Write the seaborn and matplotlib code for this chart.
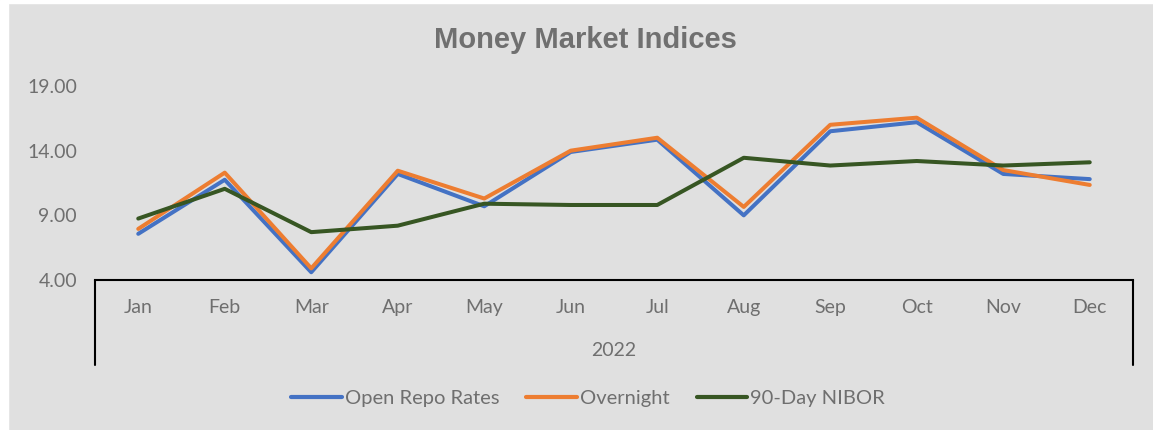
import matplotlib
matplotlib.use("Agg")
import matplotlib.pyplot as plt
import seaborn as sns
import pandas as pd
from matplotlib.patches import Rectangle
from matplotlib.lines import Line2D

months = ["Jan", "Feb", "Mar", "Apr", "May", "Jun", "Jul", "Aug", "Sep", "Oct", "Nov", "Dec"]
open_repo = [7.57, 11.75, 4.6, 12.2, 9.7, 13.9, 14.85, 9.0, 15.5, 16.2, 12.2, 11.8]
overnight = [7.95, 12.3, 4.9, 12.45, 10.3, 14.0, 15.0, 9.65, 16.0, 16.55, 12.5, 11.35]
nibor = [8.75, 11.05, 7.7, 8.2, 9.9, 9.8, 9.8, 13.45, 12.85, 13.2, 12.85, 13.1]
series_names = ["Open Repo Rates", "Overnight", "90-Day NIBOR"]
year_label = "2022"
yticks = [4.0, 9.0, 14.0, 19.0]

sns.set_theme(style="white")
plt.rcParams["font.family"] = ["Lato", "DejaVu Sans"]

bg = "#e0e0e0"
txt = "#6f6f6f"
colors = ["#4472C4", "#ED7D31", "#375623"]

rows = []
for name, vals in zip(series_names, [open_repo, overnight, nibor]):
    for i, (m, v) in enumerate(zip(months, vals)):
        rows.append({"pos": i, "month": m, "value": v, "series": name})
df = pd.DataFrame(rows)

fig = plt.figure(figsize=(11.53, 4.30), dpi=100, facecolor=bg)
ax = fig.add_axes([95/1153, 150/430, (1133-95)/1153, (280-86)/430])
ax.set_facecolor(bg)

sns.lineplot(data=df, x="pos", y="value", hue="series", palette=colors,
             hue_order=series_names, linewidth=2.9, ax=ax, legend=False, sort=False)

ax.set_xlim(-0.5, 11.5)
ax.set_ylim(4, 19)
ax.set_yticks(yticks)
ax.set_yticklabels([f"{t:.2f}" for t in yticks], color=txt, fontsize=14)
ax.set_xticks(range(len(months)))
ax.set_xticklabels(months, color=txt, fontsize=14)
ax.tick_params(axis="y", length=0, pad=13)
ax.tick_params(axis="x", length=0, pad=14)
ax.set_xlabel("")
ax.set_ylabel("")
for s in ["top", "right", "left"]:
    ax.spines[s].set_visible(False)
ax.spines["bottom"].set_color("black")
ax.spines["bottom"].set_linewidth(1.5)

# grouping box lines below x-axis
h = 85 / 194
for xx in [0, 1]:
    ax.add_line(Line2D([xx, xx], [0, -h], transform=ax.transAxes, color="black",
                       lw=1.5, clip_on=False))
ax.text(0.5, -71/194, year_label, transform=ax.transAxes, ha="center", va="center",
        color=txt, fontsize=14)

fig.text(585/1153, 1 - 40/430, "Money Market Indices", ha="center", va="center",
         fontsize=21, fontweight="bold", color="#707070",
         family=["Liberation Sans", "DejaVu Sans"])

handles = [Line2D([0], [0], color=c, lw=3) for c in colors]
fig.legend(handles, series_names, loc="center", bbox_to_anchor=(588/1153, 1 - 398/430),
           ncol=3, frameon=False, fontsize=14.5, labelcolor=txt, handlelength=2.5,
           handletextpad=0.15, columnspacing=1.35)

# white edge strips
fig.patches.append(Rectangle((0, 1 - 3/430), 1, 3/430, transform=fig.transFigure,
                             color="white", zorder=10))
fig.patches.append(Rectangle((0, 0), 8/1153, 1, transform=fig.transFigure,
                             color="white", zorder=10))

fig.savefig("out.png", dpi=100, facecolor=bg)
